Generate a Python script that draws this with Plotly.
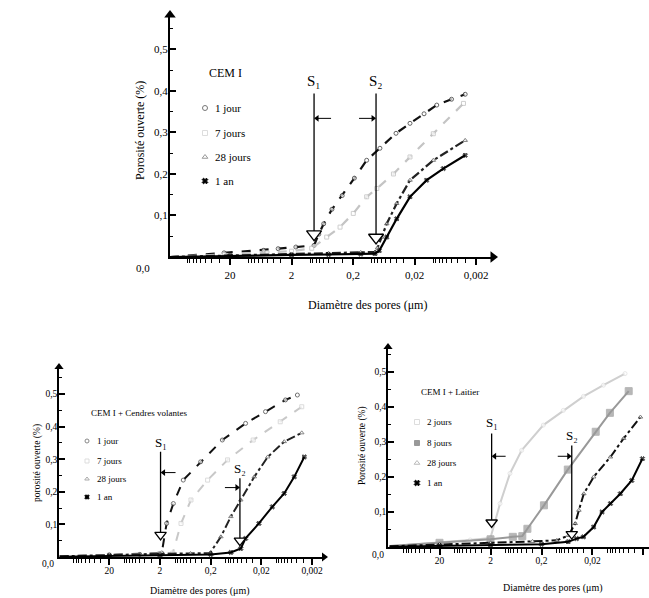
import math
import plotly.graph_objects as go

W, H = 649, 598
FONT = "Liberation Serif, Times New Roman, Times, serif"

# ---------------- data (pore diameter in µm, open porosity) ----------------
# Top panel : CEM I
top_series = ["1 jour", "7 jours", "28 jours", "1 an"]
top_1j_d = [190, 25, 5.7, 3.3, 1.7, 0.86, 0.72, 0.6, 0.44, 0.3, 0.19, 0.12, 0.073, 0.04, 0.0237, 0.014, 0.0087, 0.005, 0.003]
top_1j_y = [0.0, 0.010, 0.016, 0.020, 0.024, 0.028, 0.055, 0.08, 0.115, 0.148, 0.19, 0.233, 0.262, 0.298, 0.322, 0.345, 0.366, 0.38, 0.392]
top_7j_d = [190, 25, 5, 2, 0.94, 0.536, 0.325, 0.198, 0.12, 0.082, 0.044, 0.0237, 0.0099, 0.0032]
top_7j_y = [0.0, 0.006, 0.01, 0.014, 0.021, 0.048, 0.072, 0.105, 0.145, 0.165, 0.2, 0.241, 0.297, 0.37]
top_28j_d = [190, 20, 2, 0.5, 0.15, 0.088, 0.08, 0.068, 0.0566, 0.039, 0.0237, 0.0099, 0.003]
top_28j_y = [0.0, 0.004, 0.007, 0.009, 0.011, 0.012, 0.022, 0.048, 0.08, 0.129, 0.185, 0.233, 0.281]
top_1a_d = [190, 20, 2, 0.5, 0.15, 0.088, 0.075, 0.0566, 0.039, 0.0237, 0.0127, 0.0068, 0.003]
top_1a_y = [0.0, 0.003, 0.005, 0.006, 0.007, 0.008, 0.015, 0.048, 0.092, 0.145, 0.185, 0.213, 0.245]

# Bottom-left panel : CEM I + Cendres volantes
bl_series = ["1 jour", "7 jours", "28 jours", "1 an"]
bl_1j_d = [190, 20, 5, 2.1, 1.85, 1.48, 1.09, 0.695, 0.316, 0.118, 0.041, 0.0166, 0.0067, 0.0039]
bl_1j_y = [0.002, 0.006, 0.008, 0.01, 0.012, 0.103, 0.164, 0.236, 0.292, 0.359, 0.41, 0.446, 0.482, 0.497]
bl_7j_d = [190, 20, 2, 1.12, 0.77, 0.49, 0.23, 0.093, 0.029, 0.0085, 0.0032]
bl_7j_y = [0.002, 0.006, 0.01, 0.012, 0.103, 0.175, 0.236, 0.298, 0.359, 0.415, 0.461]
bl_28j_d = [190, 20, 2, 0.5, 0.207, 0.126, 0.08, 0.051, 0.0276, 0.015, 0.0071, 0.0032]
bl_28j_y = [0.002, 0.007, 0.01, 0.011, 0.012, 0.062, 0.124, 0.175, 0.246, 0.307, 0.354, 0.381]
bl_1a_d = [190, 20, 2, 0.2, 0.08, 0.051, 0.041, 0.0224, 0.0122, 0.0071, 0.0045, 0.00285]
bl_1a_y = [0.001, 0.004, 0.006, 0.008, 0.014, 0.026, 0.057, 0.103, 0.154, 0.195, 0.246, 0.307]

# Bottom-right panel : CEM I + Laitier
br_series = ["2 jours", "8 jours", "28 jours", "1 an"]
br_2j_d = [190, 20, 5, 2.0, 1.3, 0.83, 0.49, 0.184, 0.0746, 0.03, 0.0122, 0.0046]
br_2j_y = [0.002, 0.012, 0.02, 0.026, 0.124, 0.21, 0.276, 0.348, 0.39, 0.43, 0.462, 0.495]
br_8j_d = [190, 20, 2, 0.73, 0.476, 0.378, 0.179, 0.061, 0.0173, 0.0091, 0.0039]
br_8j_y = [0.003, 0.012, 0.022, 0.029, 0.031, 0.052, 0.119, 0.221, 0.329, 0.383, 0.445]
br_28j_d = [190, 20, 2, 0.3, 0.1, 0.059, 0.0436, 0.037, 0.0296, 0.019, 0.0089, 0.0049, 0.0023]
br_28j_y = [0.002, 0.008, 0.012, 0.016, 0.019, 0.033, 0.067, 0.105, 0.152, 0.2, 0.257, 0.31, 0.371]
br_1a_d = [190, 20, 2, 0.2, 0.06, 0.041, 0.03, 0.019, 0.013, 0.0089, 0.0057, 0.0034, 0.0021]
br_1a_y = [0.001, 0.004, 0.006, 0.008, 0.015, 0.024, 0.029, 0.057, 0.1, 0.124, 0.152, 0.19, 0.252]

# Thresholds S1 / S2 : diameter, top of line, triangle level, label level, arrow level
top_S = {"S₁": (0.86, 0.394, 0.055, 0.423, 0.334), "S₂": (0.0845, 0.394, 0.047, 0.423, 0.334)}
bl_S = {"S₁": (1.95, 0.323, 0.068, 0.352, 0.259), "S₂": (0.053, 0.242, 0.05, 0.272, 0.213)}
br_S = {"S₁": (1.9, 0.324, 0.07, 0.355, 0.259), "S₂": (0.051, 0.29, 0.037, 0.318, 0.259)}

# Ticks
x_tick_vals = [20, 2, 0.2, 0.02, 0.002]
x_tick_text = ["20", "2", "0,2", "0,02", "0,002"]
y_tick_vals = [0.1, 0.2, 0.3, 0.4, 0.5]
y_tick_text = ["0,1", "0,2", "0,3", "0,4", "0,5"]
y_minor_vals = [0.05, 0.15, 0.25, 0.35, 0.45, 0.55]
x_minor_vals = [n * 10.0 ** k for k in range(-4, 3) for n in range(1, 10) if n != 2]

# ---------------- layout helpers ----------------
def px(x):
    return x / W

def py(y):
    return 1 - y / H

# panel geometry in pixels (x range in log10 units)
panels = {
    "top": dict(left=170, right=493, axis=257, tip=15, xr=[2.277, -2.975], yr=[0, 0.583], fs=11, lw=2,
                xso=1, arrow_x=True, msz=10),
    "bl": dict(left=59, right=324, axis=557, tip=367, xr=[2.293, -2.934], yr=[0, 0.583], fs=9.5, lw=1.6,
               xso=-2, arrow_x=True, msz=8),
    "br": dict(left=388, right=649, axis=547, tip=347, xr=[2.311, -2.807], yr=[0, 0.571], fs=9.5, lw=1.6,
               xso=-2, arrow_x=False, msz=8),
}
axis_ids = {"top": ("x", "y", ""), "bl": ("x2", "y2", "2"), "br": ("x3", "y3", "3")}

fig = go.Figure()
layout = dict(
    width=W, height=H, margin=dict(l=0, r=0, t=0, b=0),
    paper_bgcolor="white", plot_bgcolor="rgba(0,0,0,0)", showlegend=False,
    font=dict(family=FONT, color="black"),
    # invisible overlay in pixel units, used only for the hand-made legend keys
    xaxis4=dict(domain=[0, 1], range=[0, W], visible=False, anchor="y4", fixedrange=True),
    yaxis4=dict(domain=[0, 1], range=[H, 0], visible=False, anchor="x4", fixedrange=True),
)
for key, p in panels.items():
    xa, ya, suf = axis_ids[key]
    layout["xaxis" + suf] = dict(
        type="log", domain=[px(p["left"]), px(p["right"])], range=p["xr"], anchor=ya,
        showline=True, linecolor="black", linewidth=p["lw"], showgrid=False, zeroline=False,
        ticks="outside", ticklen=6, tickwidth=1.5, tickcolor="black",
        tickvals=x_tick_vals, ticktext=x_tick_text, ticklabelstandoff=p["xso"],
        minor=dict(tickvals=x_minor_vals, ticks="outside", ticklen=4, tickwidth=1, tickcolor="black"),
        tickfont=dict(family=FONT, size=p["fs"], color="black"),
    )
    layout["yaxis" + suf] = dict(
        domain=[py(p["axis"]), py(p["tip"])], range=p["yr"], anchor=xa,
        showline=True, linecolor="black", linewidth=p["lw"], showgrid=False, zeroline=False,
        ticks="inside", ticklen=6, tickwidth=1.5, tickcolor="black",
        tickvals=y_tick_vals, ticktext=y_tick_text, ticklabelstandoff=-2,
        minor=dict(tickvals=y_minor_vals, ticks="inside", ticklen=3, tickwidth=1, tickcolor="black"),
        tickfont=dict(family=FONT, size=p["fs"], color="black"),
    )
    # axis arrowheads drawn as markers at the axis ends
    fig.add_trace(go.Scatter(x=[10 ** p["xr"][0]], y=[p["yr"][1]], xaxis=xa, yaxis=ya, mode="markers",
                             marker=dict(symbol="triangle-up", size=p["msz"], color="black"),
                             cliponaxis=False, hoverinfo="skip"))
    if p["arrow_x"]:
        fig.add_trace(go.Scatter(x=[10 ** p["xr"][1]], y=[0], xaxis=xa, yaxis=ya, mode="markers",
                                 marker=dict(symbol="triangle-right", size=p["msz"], color="black"),
                                 cliponaxis=False, hoverinfo="skip"))
fig.update_layout(**layout)

def add_curve(xa, ya, d, y, color, dash, width, symbol, msize, mcolor, mline, name):
    sizes = [0] + [msize] * (len(d) - 1)
    fig.add_trace(go.Scatter(
        x=d, y=y, xaxis=xa, yaxis=ya, mode="lines+markers", name=name,
        line=dict(color=color, dash=dash, width=width),
        marker=dict(symbol=symbol, size=sizes, color=mcolor, line=dict(color=mline, width=1)),
        cliponaxis=False,
    ))

# top panel curves
add_curve("x", "y", top_1j_d, top_1j_y, "#111", "dash", 2.2, "circle", 4, "white", "#222", top_series[0])
add_curve("x", "y", top_7j_d, top_7j_y, "#c4c4c4", "dash", 2.2, "square", 4, "white", "#bbb", top_series[1])
add_curve("x", "y", top_28j_d, top_28j_y, "#222", "dashdot", 2.2, "triangle-up", 4, "white", "#444", top_series[2])
add_curve("x", "y", top_1a_d, top_1a_y, "#000", "solid", 2.2, "x", 4, "#000", "#000", top_series[3])

# bottom-left curves
add_curve("x2", "y2", bl_1j_d, bl_1j_y, "#111", "dash", 2, "circle", 4, "white", "#333", bl_series[0])
add_curve("x2", "y2", bl_7j_d, bl_7j_y, "#c8c8c8", "dash", 2, "square", 4, "white", "#ccc", bl_series[1])
add_curve("x2", "y2", bl_28j_d, bl_28j_y, "#222", "dashdot", 2, "triangle-up", 4, "white", "#555", bl_series[2])
add_curve("x2", "y2", bl_1a_d, bl_1a_y, "#000", "solid", 2, "x", 4, "#000", "#000", bl_series[3])

# bottom-right curves
add_curve("x3", "y3", br_2j_d, br_2j_y, "#cfcfcf", "solid", 2, "circle", 4, "white", "#ddd", br_series[0])
add_curve("x3", "y3", br_8j_d, br_8j_y, "#999", "solid", 2, "square", 7, "#999", "#999", br_series[1])
add_curve("x3", "y3", br_28j_d, br_28j_y, "#111", "dashdot", 2, "triangle-up", 4, "white", "#444", br_series[2])
add_curve("x3", "y3", br_1a_d, br_1a_y, "#000", "solid", 2, "x", 4, "#000", "#000", br_series[3])

annotations = []

# S1 / S2 markers: vertical line, open triangle, label and a short horizontal arrow
def add_thresholds(key, S, tri_size, label_size, arrow_px):
    xa, ya, _ = axis_ids[key]
    p = panels[key]
    dec_px = (p["right"] - p["left"]) / (p["xr"][0] - p["xr"][1])
    for i, (name, (d, ytop, ytri, ylab, yarr)) in enumerate(S.items()):
        fig.add_trace(go.Scatter(x=[d, d], y=[ytri, ytop], xaxis=xa, yaxis=ya, mode="lines",
                                 line=dict(color="black", width=1.3), hoverinfo="skip"))
        fig.add_trace(go.Scatter(x=[d], y=[ytri], xaxis=xa, yaxis=ya, mode="markers",
                                 marker=dict(symbol="triangle-down", size=tri_size, color="white",
                                             line=dict(color="black", width=1.3)), cliponaxis=False))
        annotations.append(dict(x=math.log10(d), y=ylab, xref=xa, yref=ya, showarrow=False,
                                text=name, font=dict(family=FONT, size=label_size, color="black")))
        # S1 arrow points left onto its line, S2 arrow points right onto its line
        sign = 1 if i == 0 else -1
        tail = d / 10 ** (sign * arrow_px / dec_px)
        head = d / 10 ** (sign * 3 / dec_px)
        fig.add_trace(go.Scatter(x=[tail, head], y=[yarr, yarr], xaxis=xa, yaxis=ya, mode="lines",
                                 line=dict(color="black", width=1), hoverinfo="skip"))
        fig.add_trace(go.Scatter(x=[head], y=[yarr], xaxis=xa, yaxis=ya, mode="markers",
                                 marker=dict(symbol="triangle-left" if i == 0 else "triangle-right",
                                             size=6, color="black"), hoverinfo="skip"))

add_thresholds("top", top_S, 13, 15, 17)
add_thresholds("bl", bl_S, 10, 13, 15)
add_thresholds("br", br_S, 10, 13, 14)

def text(xp, yp, s, size, xanchor="center", angle=0, color="black"):
    annotations.append(dict(x=px(xp), y=py(yp), xref="paper", yref="paper", text=s, showarrow=False,
                            xanchor=xanchor, yanchor="middle", textangle=angle,
                            font=dict(family=FONT, size=size, color=color)))

# "0,0" labels
text(143, 268, "0,0", 11)
text(48, 564, "0,0", 9.5)
text(378, 555, "0,0", 9.5)

# axis titles
text(140, 131, "Porosité ouverte (%)", 12, angle=-90)
text(367, 305, "Diamètre des pores (μm)", 12)
text(37, 463, "porosité ouverte (%)", 9.5, angle=-90)
text(200, 591, "Diamètre des pores (μm)", 10)
text(363, 445, "Porosité ouverte (%)", 9.5, angle=-90)
text(553, 588, "Diamètre des pores (μm)", 10)

# legends: marker keys on the pixel overlay + text annotations
def legend(title, tx, ty, mx, textx, ys, names, symbols, fills, lines, msize, tsize, isize):
    text(tx, ty, title, tsize, xanchor="left")
    fig.add_trace(go.Scatter(x=[mx] * len(ys), y=ys, xaxis="x4", yaxis="y4", mode="markers",
                             marker=dict(symbol=symbols, size=msize, color=fills,
                                         line=dict(color=lines, width=1)),
                             hoverinfo="skip", cliponaxis=False))
    for yy, nm in zip(ys, names):
        text(textx, yy, nm, isize, xanchor="left")

legend("CEM I", 207, 73, 205, 213, [108, 133, 157, 181], top_series,
       ["circle", "square", "triangle-up", "x"], ["white", "white", "white", "#000"],
       ["#777", "#ddd", "#999", "#000"], 5, 12, 11)
legend("CEM I + Cendres volantes", 89, 413, 87, 95, [441, 461, 479, 497], bl_series,
       ["circle", "square", "triangle-up", "x"], ["white", "white", "white", "#000"],
       ["#888", "#ddd", "#aaa", "#000"], 4, 9, 9)
legend("CEM I + Laitier", 419, 392, 417, 425, [422, 443, 463, 483], br_series,
       ["square", "square", "triangle-up", "x"], ["white", "#999", "white", "#000"],
       ["#ddd", "#999", "#bbb", "#000"], 5, 9, 9)

fig.update_layout(annotations=annotations)
fig.write_html("out.html")
